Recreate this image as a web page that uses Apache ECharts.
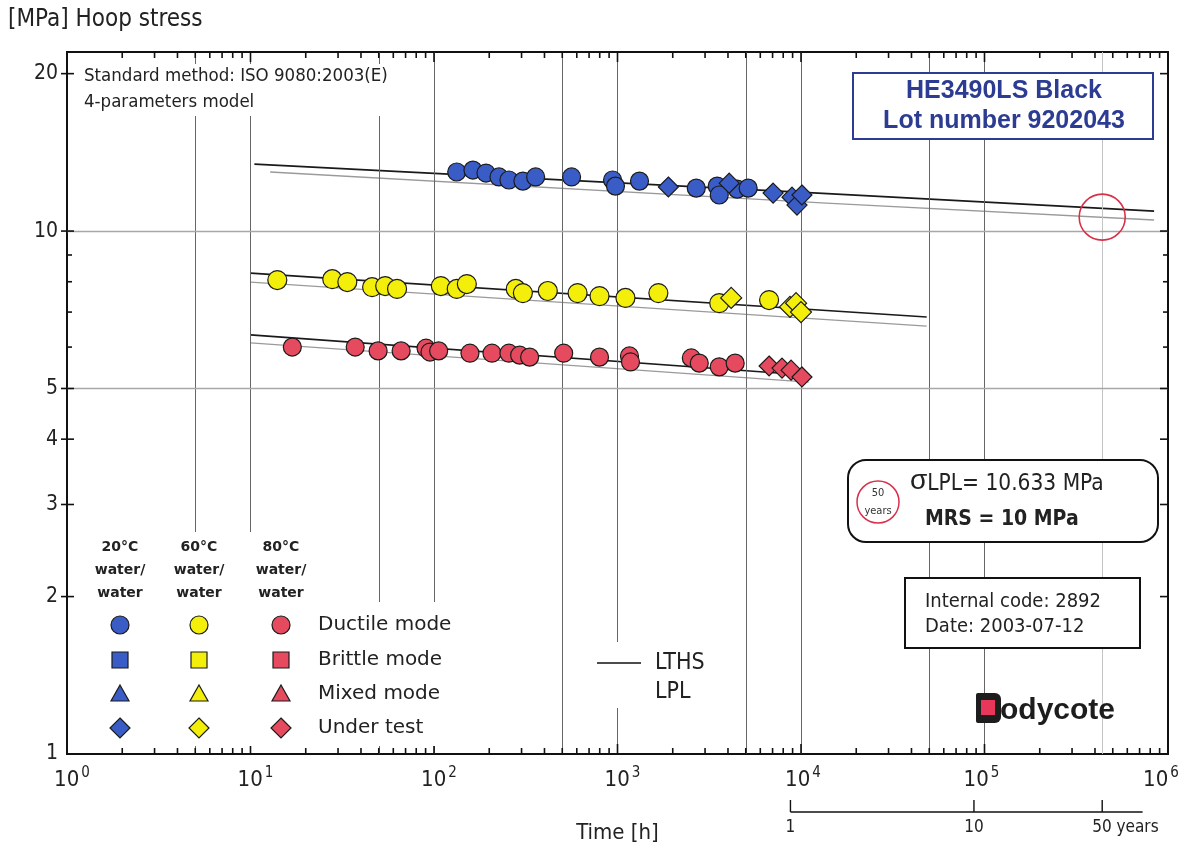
<!DOCTYPE html>
<html>
<head>
<meta charset="utf-8">
<script src="https://cdn.jsdelivr.net/npm/echarts@6/dist/echarts.min.js"></script>
<style>
html,body{margin:0;padding:0;background:#fff;}
#chart{width:1186px;height:842px;}
</style>
</head>
<body>
<div id="chart"></div>
<script>
// ---------------- DATA ----------------
// [time h, hoop stress MPa]
const BLUE_DUCTILE = [[133,12.97],[163,13.08],[192,12.91],[226,12.69],[256,12.52],[305,12.46],[358,12.69],[562,12.69],[940,12.52],[975,12.19],[1318,12.46],[2687,12.08],[3494,12.19],[3585,11.72],[4487,12.03],[5152,12.08]];
const BLUE_UNDER_TEST = [[1893,12.14],[4062,12.35],[7046,11.82],[8934,11.61],[9510,11.21],[10120,11.72]];
const YELLOW_DUCTILE = [[14.0,8.06],[27.9,8.09],[33.7,7.99],[46.0,7.81],[54.2,7.85],[62.9,7.75],[109,7.85],[133,7.75],[151,7.92],[279,7.75],[305,7.61],[417,7.68],[606,7.61],[798,7.51],[1105,7.45],[1670,7.61],[3585,7.28],[6700,7.38]];
const YELLOW_UNDER_TEST = [[4165,7.45],[8710,7.16],[9400,7.28],[10000,7.00]];
const RED_DUCTILE = [[16.9,6.00],[37.2,6.00],[49.6,5.90],[66.2,5.90],[90.5,5.97],[95.1,5.87],[106,5.90],[157,5.84],[207,5.84],[256,5.84],[293,5.79],[332,5.74],[509,5.84],[798,5.74],[1162,5.77],[1177,5.62],[2525,5.72],[2790,5.59],[3585,5.50],[4378,5.59]];
const RED_UNDER_TEST = [[6700,5.52],[7880,5.47],[8830,5.42],[10120,5.26]];

const BLUE_LTHS = [[10.5,13.43],[12400,11.82],[840000,10.92]];
const BLUE_LPL = [[12.8,12.97],[13700,11.31],[840000,10.50]];
const YELLOW_LTHS = [[10,8.31],[48400,6.85]];
const YELLOW_LPL = [[10,7.99],[48400,6.58]];
const RED_LTHS = [[10,6.33],[11000,5.30]];
const RED_LPL = [[10,6.11],[11000,5.14]];

const LPL_50Y = [[438000,10.633]];

const Y_TICK_LABELS = [1,2,3,4,5,10,20];
const Y_MINOR = [6,7,8,9];
const X_GRID = [5,10,50,100,500,1000,5000,10000,50000,100000];
const X_GRID_LIGHT = [438000];
const Y_GRID = [5,10];
const YEAR_TICKS = [1,10,50];
const YEAR_LABELS = ['1','10','50 years'];
const YEAR_AXIS_END = 83;
const HOURS_PER_YEAR = 8760;

// ---------------- STYLE ----------------
const NARROW = "'Liberation Sans Narrow','DejaVu Sans Condensed','Liberation Sans',sans-serif";
const REG = "'Liberation Sans',Arial,sans-serif";
const WIDE = "'DejaVu Sans','Liberation Sans',sans-serif";
const BLUE = '#3a5cc6', YELLOW = '#f3ef0a', RED = '#e64a5f';
const X_MIN = 1, X_MAX = 1e6, Y_MIN = 1, Y_MAX = 22;

// tick items [x, y, side, len, out]
const tickData = [];
for (let n = 0; n < 6; n++) {
  for (let k = 2; k <= 9; k++) {
    const v = k * Math.pow(10, n);
    tickData.push([v, Y_MIN, 0, 6, 0]);
    tickData.push([v, Y_MAX, 1, 6, 0]);
  }
}
for (let n = 1; n < 6; n++) {
  const v = Math.pow(10, n);
  tickData.push([v, Y_MIN, 0, 10, 0]);
  tickData.push([v, Y_MAX, 1, 10, 0]);
}
Y_TICK_LABELS.forEach(v => { if (v > Y_MIN) { tickData.push([X_MIN, v, 2, 7, 6]); tickData.push([X_MAX, v, 3, 8, 0]); } });
Y_MINOR.forEach(v => { tickData.push([X_MIN, v, 2, 5, 0]); tickData.push([X_MAX, v, 3, 5, 0]); });

const chart = echarts.init(document.getElementById('chart'), null, {renderer: 'canvas'});

function scatter(name, data, color, symbol, size) {
  return {
    name, type: 'scatter', data, symbol, symbolSize: size, z: 5,
    itemStyle: {color, borderColor: '#1b1b1b', borderWidth: 1.2, opacity: 1}
  };
}
function fitLine(data, kind) {
  return {
    type: 'line', data, showSymbol: false, symbol: 'none', silent: true, z: 4,
    lineStyle: kind === 'LTHS' ? {color: '#1a1a1a', width: 1.6} : {color: '#9a9a9a', width: 1.3}
  };
}

const legendX = [120, 199, 281];
const legendRows = [625, 660, 694, 728];
const legendColors = [BLUE, YELLOW, RED];
const legendGraphics = [];
const legendHeaders = ['20°C', '60°C', '80°C'];
legendX.forEach((cx, i) => {
  legendGraphics.push({type: 'text', z: 101, style: {x: cx, y: 570, text: legendHeaders[i] + '\nwater/\nwater', align: 'center', verticalAlign: 'middle', font: 'bold 14px ' + WIDE, fill: '#222', lineHeight: 23}});
  const c = legendColors[i];
  const st = {fill: c, stroke: '#1b1b1b', lineWidth: 1.2};
  legendGraphics.push({type: 'circle', z: 101, shape: {cx, cy: legendRows[0], r: 9}, style: st});
  legendGraphics.push({type: 'rect', z: 101, shape: {x: cx - 8, y: legendRows[1] - 8, width: 16, height: 16}, style: st});
  legendGraphics.push({type: 'polygon', z: 101, shape: {points: [[cx, legendRows[2] - 9], [cx + 9, legendRows[2] + 7], [cx - 9, legendRows[2] + 7]]}, style: st});
  legendGraphics.push({type: 'polygon', z: 101, shape: {points: [[cx, legendRows[3] - 10], [cx + 10, legendRows[3]], [cx, legendRows[3] + 10], [cx - 10, legendRows[3]]]}, style: st});
});
['Ductile mode', 'Brittle mode', 'Mixed mode', 'Under test'].forEach((t, i) => {
  legendGraphics.push({type: 'text', z: 101, style: {x: 318, y: legendRows[i], verticalAlign: 'middle', text: t, font: '20px ' + WIDE, fill: '#222'}});
});

const supStyle = (right) => ({fontFamily: NARROW, fontSize: 15, color: '#222', padding: [0, right, 14, 2]});

const option = {
  animation: false,
  backgroundColor: '#fff',
  grid: {left: 67, right: 18, top: 52, bottom: 88, show: true, borderColor: '#111', borderWidth: 2, backgroundColor: 'transparent', containLabel: false, outerBoundsMode: 'none'},
  xAxis: {
    type: 'log', logBase: 10, min: X_MIN, max: X_MAX, splitNumber: 6,
    axisLine: {show: true, lineStyle: {color: '#111', width: 2}},
    axisTick: {show: false}, splitLine: {show: false}, minorTick: {show: false},
    name: 'Time [h]', nameLocation: 'middle', nameGap: 68,
    nameTextStyle: {fontFamily: NARROW, fontSize: 22, color: '#222'},
    axisLabel: {
      margin: 12,
      formatter: v => {
        const e = Math.round(Math.log10(v));
        const s = e >= 6 ? 'c' : (e === 5 ? 'd' : (e === 4 ? 'e' : 'b'));
        return '{a|10}{' + s + '|' + e + '}';
      },
      rich: {
        a: {fontFamily: NARROW, fontSize: 22, color: '#222', padding: [0, 0, 0, 10]},
        b: supStyle(0),
        e: supStyle(6),
        d: supStyle(16),
        c: supStyle(24)
      }
    }
  },
  yAxis: {
    type: 'log', logBase: 10, min: Y_MIN, max: Y_MAX,
    axisLine: {show: true, lineStyle: {color: '#111', width: 2}},
    axisTick: {show: false}, axisLabel: {show: false}, splitLine: {show: false}
  },
  series: [
    // grid lines
    {
      type: 'line', data: [], silent: true, z: 1,
      markLine: {
        silent: true, symbol: 'none', label: {show: false}, animation: false,
        data: [
          ...X_GRID.map(v => ({xAxis: v, lineStyle: {color: '#666', width: 1, type: 'solid'}})),
          ...X_GRID_LIGHT.map(v => ({xAxis: v, lineStyle: {color: '#c4c4c4', width: 1, type: 'solid'}})),
          ...Y_GRID.map(v => ({yAxis: v, lineStyle: {color: '#a8a8a8', width: 1.3, type: 'solid'}}))
        ]
      }
    },
    fitLine(BLUE_LPL, 'LPL'), fitLine(BLUE_LTHS, 'LTHS'),
    fitLine(YELLOW_LPL, 'LPL'), fitLine(YELLOW_LTHS, 'LTHS'),
    fitLine(RED_LPL, 'LPL'), fitLine(RED_LTHS, 'LTHS'),
    scatter('20°C ductile', BLUE_DUCTILE, BLUE, 'circle', 18),
    scatter('20°C under test', BLUE_UNDER_TEST, BLUE, 'diamond', 20),
    scatter('60°C ductile', YELLOW_DUCTILE, YELLOW, 'circle', 19),
    scatter('60°C under test', YELLOW_UNDER_TEST, YELLOW, 'diamond', 21),
    scatter('80°C ductile', RED_DUCTILE, RED, 'circle', 18),
    scatter('80°C under test', RED_UNDER_TEST, RED, 'diamond', 20),
    {
      type: 'scatter', data: LPL_50Y, symbol: 'circle', symbolSize: 46, z: 6, silent: true,
      itemStyle: {color: 'rgba(0,0,0,0)', borderColor: '#d83048', borderWidth: 1.6, opacity: 1}
    },
    // ticks
    {
      type: 'custom', data: tickData, silent: true, z: 7, clip: false,
      encode: {x: 0, y: 1},
      renderItem: (params, api) => {
        const p = api.coord([api.value(0), api.value(1)]);
        const side = api.value(2), len = api.value(3), out = api.value(4);
        let s;
        if (side === 0) s = {x1: p[0], y1: p[1], x2: p[0], y2: p[1] - len};
        else if (side === 1) s = {x1: p[0], y1: p[1], x2: p[0], y2: p[1] + len};
        else if (side === 2) s = {x1: p[0] - out, y1: p[1], x2: p[0] + len, y2: p[1]};
        else s = {x1: p[0], y1: p[1], x2: p[0] - len, y2: p[1]};
        return {type: 'line', shape: s, style: {stroke: '#111', lineWidth: 1.6}};
      }
    },
    // y labels
    {
      type: 'custom', data: Y_TICK_LABELS.map(v => [X_MIN, v]), silent: true, z: 7, clip: false,
      encode: {x: 0, y: 1},
      renderItem: (params, api) => {
        const v = api.value(1);
        const p = api.coord([api.value(0), v]);
        return {type: 'text', style: {x: p[0] - 9, y: p[1], text: String(v), align: 'right', verticalAlign: 'middle', font: '21px ' + NARROW, fill: '#222'}};
      }
    },
    // years axis
    {
      type: 'custom', data: YEAR_TICKS.map(y => [y * HOURS_PER_YEAR, Y_MIN]), silent: true, z: 7, clip: false,
      encode: {x: 0, y: 1},
      renderItem: (params, api) => {
        const i = params.dataIndex;
        const last = i === YEAR_TICKS.length - 1;
        const p = api.coord([api.value(0), api.value(1)]);
        const children = [
          {type: 'line', shape: {x1: p[0], y1: p[1] + 46, x2: p[0], y2: p[1] + 58}, style: {stroke: '#111', lineWidth: 1.4}},
          {type: 'text', style: {x: last ? p[0] - 10 : p[0], y: p[1] + 74, text: YEAR_LABELS[i], align: last ? 'left' : 'center', verticalAlign: 'middle', font: '17px ' + NARROW, fill: '#222'}}
        ];
        if (i === 0) {
          const e = api.coord([YEAR_AXIS_END * HOURS_PER_YEAR, Y_MIN]);
          children.push({type: 'line', shape: {x1: p[0], y1: p[1] + 58, x2: e[0], y2: p[1] + 58}, style: {stroke: '#111', lineWidth: 1.4}});
        }
        return {type: 'group', children};
      }
    }
  ],
  graphic: [
    {type: 'text', z: 101, style: {x: 8, y: 20, verticalAlign: 'middle', text: '[MPa] Hoop stress', font: '24px ' + NARROW, fill: '#222'}},
    {type: 'rect', z: 100, shape: {x: 80, y: 64, width: 316, height: 52}, style: {fill: '#fff'}},
    {type: 'text', z: 101, style: {x: 84, y: 76, verticalAlign: 'middle', text: 'Standard method: ISO 9080:2003(E)', font: '18.5px ' + NARROW, fill: '#222'}},
    {type: 'text', z: 101, style: {x: 84, y: 102, verticalAlign: 'middle', text: '4-parameters model', font: '18.5px ' + NARROW, fill: '#222'}},
    // product box
    {type: 'rect', z: 100, shape: {x: 853, y: 73, width: 300, height: 66}, style: {fill: '#fff', stroke: '#2d3c93', lineWidth: 2}},
    {type: 'text', z: 101, style: {x: 1004, y: 91, text: 'HE3490LS Black', align: 'center', verticalAlign: 'middle', font: 'bold 25px ' + REG, fill: '#2d3c93'}},
    {type: 'text', z: 101, style: {x: 1004, y: 121, text: 'Lot number 9202043', align: 'center', verticalAlign: 'middle', font: 'bold 25px ' + REG, fill: '#2d3c93'}},
    // result box
    {type: 'rect', z: 100, shape: {x: 848, y: 460, width: 310, height: 82, r: 18}, style: {fill: '#fff', stroke: '#111', lineWidth: 2}},
    {type: 'circle', z: 101, shape: {cx: 878, cy: 502, r: 21}, style: {fill: 'none', stroke: '#d9314d', lineWidth: 1.5}},
    {type: 'text', z: 102, style: {x: 878, y: 493, text: '50', align: 'center', verticalAlign: 'middle', font: '11px ' + NARROW, fill: '#333'}},
    {type: 'text', z: 102, style: {x: 878, y: 511, text: 'years', align: 'center', verticalAlign: 'middle', font: '11px ' + NARROW, fill: '#333'}},
    {type: 'text', z: 101, style: {x: 910, y: 484, verticalAlign: 'middle', text: '{s|σ}{t|LPL= 10.633 MPa}', rich: {s: {font: '28px ' + REG, fill: '#222', padding: [0, 0, 6, 0]}, t: {font: '22.5px ' + NARROW, fill: '#222'}}}},
    {type: 'text', z: 101, style: {x: 925, y: 520, verticalAlign: 'middle', text: 'MRS = 10 MPa', font: 'bold 21px ' + NARROW, fill: '#222'}},
    // internal code box
    {type: 'rect', z: 100, shape: {x: 905, y: 578, width: 235, height: 70}, style: {fill: '#fff', stroke: '#111', lineWidth: 2}},
    {type: 'text', z: 101, style: {x: 925, y: 602, verticalAlign: 'middle', text: 'Internal code: 2892', font: '20px ' + NARROW, fill: '#222'}},
    {type: 'text', z: 101, style: {x: 925, y: 627, verticalAlign: 'middle', text: 'Date: 2003-07-12', font: '20px ' + NARROW, fill: '#222'}},
    // legend background
    {type: 'rect', z: 100, shape: {x: 84, y: 532, width: 232, height: 214}, style: {fill: '#fff'}},
    {type: 'rect', z: 100, shape: {x: 310, y: 602, width: 150, height: 144}, style: {fill: '#fff'}},
    ...legendGraphics,
    // LTHS / LPL key
    {type: 'rect', z: 100, shape: {x: 590, y: 642, width: 128, height: 66}, style: {fill: '#fff'}},
    {type: 'line', z: 101, shape: {x1: 597, y1: 663, x2: 641, y2: 663}, style: {stroke: '#111', lineWidth: 1.6}},
    {type: 'text', z: 101, style: {x: 655, y: 663, verticalAlign: 'middle', text: 'LTHS', font: '23px ' + NARROW, fill: '#222'}},
    {type: 'text', z: 101, style: {x: 655, y: 692, verticalAlign: 'middle', text: 'LPL', font: '23px ' + NARROW, fill: '#222'}},
    // logo
    {type: 'rect', z: 101, shape: {x: 976, y: 693, width: 25, height: 30, r: [2, 6, 6, 2]}, style: {fill: '#1d1d1d'}},
    {type: 'rect', z: 102, shape: {x: 981, y: 700, width: 14, height: 15}, style: {fill: '#e8375a'}},
    {type: 'text', z: 101, style: {x: 1000, y: 711, verticalAlign: 'middle', text: 'odycote', font: 'bold 30px ' + REG, fill: '#1d1d1d'}}
  ]
};
chart.setOption(option);
</script>
</body>
</html>
